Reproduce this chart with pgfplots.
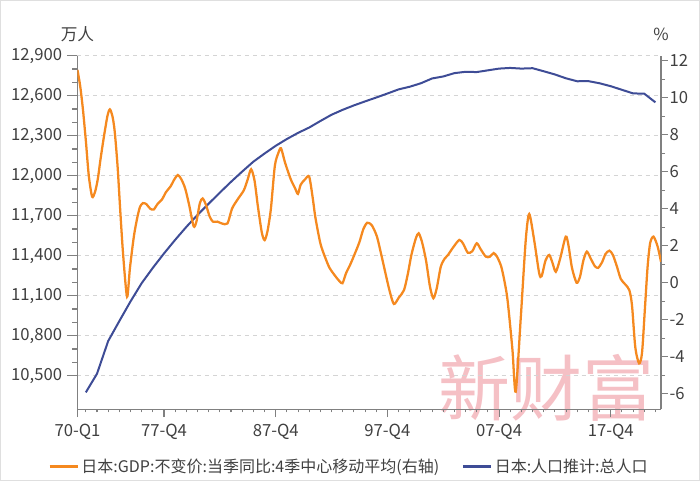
\documentclass[border=0pt]{standalone}
\usepackage{pgfplots}
\pgfplotsset{compat=1.18}
\usepackage{fontspec}
\setmainfont{Noto Sans CJK SC}
\definecolor{gdporange}{RGB}{245,137,31}
\definecolor{popblue}{RGB}{62,76,150}
\definecolor{axisgray}{RGB}{128,128,128}
\definecolor{txtgray}{RGB}{64,64,64}
\definecolor{gridgray}{RGB}{212,212,212}
\definecolor{wm}{RGB}{236,140,150}

\pgfplotstableread{
x y
1970.75 10375
1971.75 10515
1972.75 10760
1973.75 10910
1974.75 11057
1975.75 11194
1976.75 11309
1977.75 11417
1978.75 11519
1979.75 11616
1980.75 11706
1981.75 11790
1982.75 11873
1983.75 11954
1984.75 12031
1985.75 12105
1986.75 12166
1987.75 12224
1988.75 12275
1989.75 12321
1990.75 12361
1991.75 12410
1992.75 12457
1993.75 12494
1994.75 12527
1995.75 12557
1996.75 12586
1997.75 12616
1998.75 12647
1999.75 12667
2000.75 12693
2001.75 12729
2002.75 12744
2003.75 12769
2004.75 12779
2005.75 12777
2006.75 12790
2007.75 12803
2008.75 12808
2009.75 12803
2010.75 12806
2011.75 12783
2012.75 12759
2013.75 12730
2014.75 12708
2015.75 12709
2016.75 12693
2017.75 12671
2018.75 12644
2019.75 12617
2020.75 12615
2021.75 12550
}\poptable

\pgfplotstableread{
x y
1970.00 11.5
1970.25 10.6
1970.50 9.3
1970.76 7.6
1971.01 5.8
1971.31 4.65
1971.57 4.9
1971.82 5.6
1972.07 6.7
1972.37 7.9
1972.68 9.0
1972.90 9.37
1973.13 9.0
1973.33 8.2
1973.59 6.3
1973.84 3.8
1974.09 1.5
1974.44 -0.76
1974.70 0.8
1975.05 2.5
1975.35 3.5
1975.60 4.1
1975.86 4.3
1976.16 4.25
1976.51 4.0
1976.82 3.95
1977.17 4.25
1977.57 4.5
1977.93 4.9
1978.33 5.2
1978.69 5.6
1978.99 5.82
1979.29 5.6
1979.64 5.1
1980.00 4.2
1980.40 3.05
1980.65 3.3
1980.96 4.3
1981.21 4.55
1981.51 4.2
1981.82 3.6
1982.12 3.3
1982.52 3.3
1982.93 3.2
1983.43 3.2
1983.84 4.0
1984.34 4.5
1984.90 5.0
1985.25 5.6
1985.55 6.13
1985.86 5.5
1986.16 4.1
1986.51 2.7
1986.76 2.3
1987.02 2.8
1987.32 4.0
1987.67 6.3
1987.98 7.0
1988.23 7.26
1988.58 6.5
1989.09 5.6
1989.49 5.1
1989.74 4.8
1989.99 5.3
1990.40 5.6
1990.75 5.73
1991.06 4.6
1991.31 3.5
1991.76 2.1
1992.22 1.3
1992.57 0.8
1993.03 0.4
1993.43 0.1
1993.73 -0.03
1994.04 0.5
1994.44 1.0
1994.79 1.5
1995.25 2.2
1995.60 2.9
1995.95 3.24
1996.36 3.1
1996.81 2.5
1997.17 1.6
1997.47 0.8
1997.93 -0.4
1998.33 -1.15
1998.78 -0.8
1999.24 -0.4
1999.59 0.5
1999.90 1.5
2000.30 2.4
2000.55 2.67
2000.85 2.2
2001.21 1.2
2001.56 -0.2
2001.87 -0.84
2002.17 -0.3
2002.53 0.86
2002.88 1.3
2003.18 1.5
2003.63 1.9
2004.19 2.31
2004.54 2.1
2004.95 1.62
2005.35 1.7
2005.75 2.13
2006.11 1.8
2006.56 1.41
2006.92 1.4
2007.27 1.6
2007.57 1.4
2007.93 0.9
2008.21 0.15
2008.51 -0.94
2008.95 -3.64
2009.24 -5.89
2009.70 -1.84
2010.14 2.31
2010.45 3.71
2010.89 2.31
2011.34 0.52
2011.56 0.35
2011.91 1.2
2012.24 1.5
2012.52 1.1
2012.83 0.59
2013.22 1.3
2013.72 2.49
2013.97 2.0
2014.28 0.8
2014.69 0.0
2014.99 0.3
2015.30 1.2
2015.61 1.68
2015.96 1.3
2016.32 0.9
2016.62 0.8
2016.97 1.1
2017.28 1.55
2017.63 1.73
2017.94 1.5
2018.29 0.9
2018.65 0.2
2019.06 -0.1
2019.41 -0.4
2019.65 -1.2
2019.95 -3.5
2020.29 -4.36
2020.55 -3.8
2020.80 -1.5
2021.05 0.86
2021.28 2.14
2021.58 2.49
2021.95 1.95
2022.25 1.13
}\gdptable

\begin{document}
\begin{tikzpicture}
\useasboundingbox (-58.1pt,-54pt) rectangle (466.85pt,306.75pt);
\draw[gray!25, line width=0.75pt] (-57.7pt,-53.6pt) rectangle (466.45pt,306.35pt);
\node[text=wm, opacity=0.55, font=\fontsize{54}{54}\selectfont, inner sep=0pt] at (352pt,16pt) {新财富};

\begin{axis}[
  scale only axis, width=437.6pt, height=265pt,
  at={(0pt,0pt)}, anchor=south west,
  xmin=1970, xmax=2022.25,
  ymin=10250, ymax=12900,
  axis y line*=left, axis x line*=bottom,
  axis line style={draw=axisgray, line width=0.8pt},
  tick align=outside,
  tick style={draw=axisgray, line width=0.8pt},
  major tick length=8pt, minor tick length=4pt,
  x tick style={/pgfplots/major tick length=6pt,/pgfplots/minor tick length=2.5pt},
  xtick={1970,1977.75,1987.75,1997.75,2007.75,2017.75},
  xticklabels={70-Q1,77-Q4,87-Q4,97-Q4,07-Q4,17-Q4},
  minor xtick={1970.75,1971.75,...,2021.75},
  ytick={10500,10800,...,12900},
  minor y tick num=2,
  scaled y ticks=false,
  ymajorgrids,
  major grid style={draw=gridgray, dashed, line width=0.6pt},
  tick label style={font=\fontsize{12.5}{15}\selectfont, text=txtgray},
  yticklabel style={/pgf/number format/.cd, fixed, precision=0, 1000 sep={,}, assume math mode=true},
]
\addplot[draw=popblue, line width=1.5pt] table[x=x,y=y] {\poptable};
\end{axis}
\node[font=\fontsize{12.5}{15}\selectfont, text=txtgray] at (0pt,281pt) {万人};
\node[font=\fontsize{12.5}{15}\selectfont, text=txtgray] at (437.6pt,281pt) {\%};

\begin{axis}[
  scale only axis, width=437.6pt, height=265pt,
  at={(0pt,0pt)}, anchor=south west,
  xmin=1970, xmax=2022.25,
  ymin=-6.83, ymax=12.27,
  axis y line*=right, axis x line=none,
  axis line style={draw=axisgray, line width=0.8pt},
  tick align=outside,
  tick style={draw=axisgray, line width=0.8pt},
  major tick length=5pt, minor tick length=3pt,
  ytick={-6,-4,...,12},
  minor y tick num=1,
  tick label style={font=\fontsize{12.5}{15}\selectfont, text=txtgray},
  yticklabel style={xshift=-2pt, /pgf/number format/assume math mode=true},
  legend columns=2,
  legend style={draw=none, fill=none, inner sep=0pt, at={(-0.05,-0.163)}, anchor=west,
    font=\fontsize{12}{14}\selectfont, text=txtgray,
    /tikz/every even column/.append style={column sep=15pt}},
  legend image code/.code={\draw[#1] (0pt,0pt) -- (21pt,0pt);},
]
\addplot[draw=gdporange, line width=1.7pt, smooth, tension=0.45] table[x=x,y=y] {\gdptable};
\addlegendentry{日本:GDP:不变价:当季同比:4季中心移动平均(右轴)}
\addlegendimage{draw=popblue, line width=1.7pt}
\addlegendentry{日本:人口推计:总人口}
\end{axis}
\end{tikzpicture}
\end{document}
